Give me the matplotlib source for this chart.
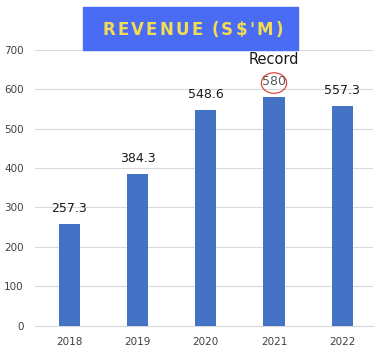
import matplotlib.pyplot as plt
from matplotlib.patches import Ellipse

years = ["2018", "2019", "2020", "2021", "2022"]
revenue = [257.3, 384.3, 548.6, 580, 557.3]
labels = ["257.3", "384.3", "548.6", "580", "557.3"]
yticks = [0, 100, 200, 300, 400, 500, 600, 700]
title = "REVENUE (S$'M)"

BAR_COLOR = "#4472C4"
W, H = 375, 354

fig = plt.figure(figsize=(3.75, 3.54), dpi=100)
ax = fig.add_axes([35 / W, 1 - 325.5 / H, 338 / W, 275.5 / H])

x = list(range(len(years)))
ax.bar(x, revenue, width=0.31, color=BAR_COLOR, zorder=3)

for i, (v, lab) in enumerate(zip(revenue, labels)):
    color = "#595959" if lab == "580" else "#1a1a1a"
    ax.text(i, v + 23, lab, ha="center", va="bottom", fontsize=9, color=color, zorder=4)

# record highlight on 2021
rec = years.index("2021")
ax.add_patch(Ellipse((rec, revenue[rec] + 36), 0.37, 52, fill=False,
                     edgecolor="#d9342b", lw=0.8, zorder=5, clip_on=False))
ax.text(rec, revenue[rec] + 78, "Record", ha="center", va="bottom", fontsize=10.5,
        color="#1a1a1a", zorder=5)

ax.set_xlim(-0.5, 4.45)
ax.set_ylim(0, 700)
ax.set_xticks(x)
ax.set_xticklabels(years, fontsize=7.5, color="#404040")
ax.set_yticks(yticks)
ax.set_yticklabels([str(t) for t in yticks], fontsize=7.5, color="#404040")
ax.tick_params(length=0, pad=8)
ax.tick_params(axis="y", pad=8)
ax.grid(axis="y", color="#d9d9d9", lw=0.8, zorder=0)
for s in ["top", "right", "left"]:
    ax.spines[s].set_visible(False)
ax.spines["bottom"].set_color("#d9d9d9")

# title banner
fig.patches.append(plt.Rectangle((83 / W, 1 - 50 / H), 215 / W, 43 / H,
                                 transform=fig.transFigure, color="#4a6cf5", zorder=10))

# letter-spaced title text
renderer = fig.canvas.get_renderer()
chars = []
widths = []
for ch in title:
    t = fig.text(0, 0, ch if ch != " " else "-", fontsize=12, fontweight="bold",
                 color="#f3dc52", zorder=11)
    widths.append(t.get_window_extent(renderer).width * (0.6 if ch == " " else 1))
    if ch == " ":
        t.set_text("")
    chars.append(t)
left, right = 102, 283
gap = (right - left - sum(widths)) / (len(title) - 1)
pos = left
for t, w in zip(chars, widths):
    t.set_position((pos / W, 1 - 30 / H))
    t.set_va("center")
    pos += w + gap

fig.savefig("out.png", dpi=100)
